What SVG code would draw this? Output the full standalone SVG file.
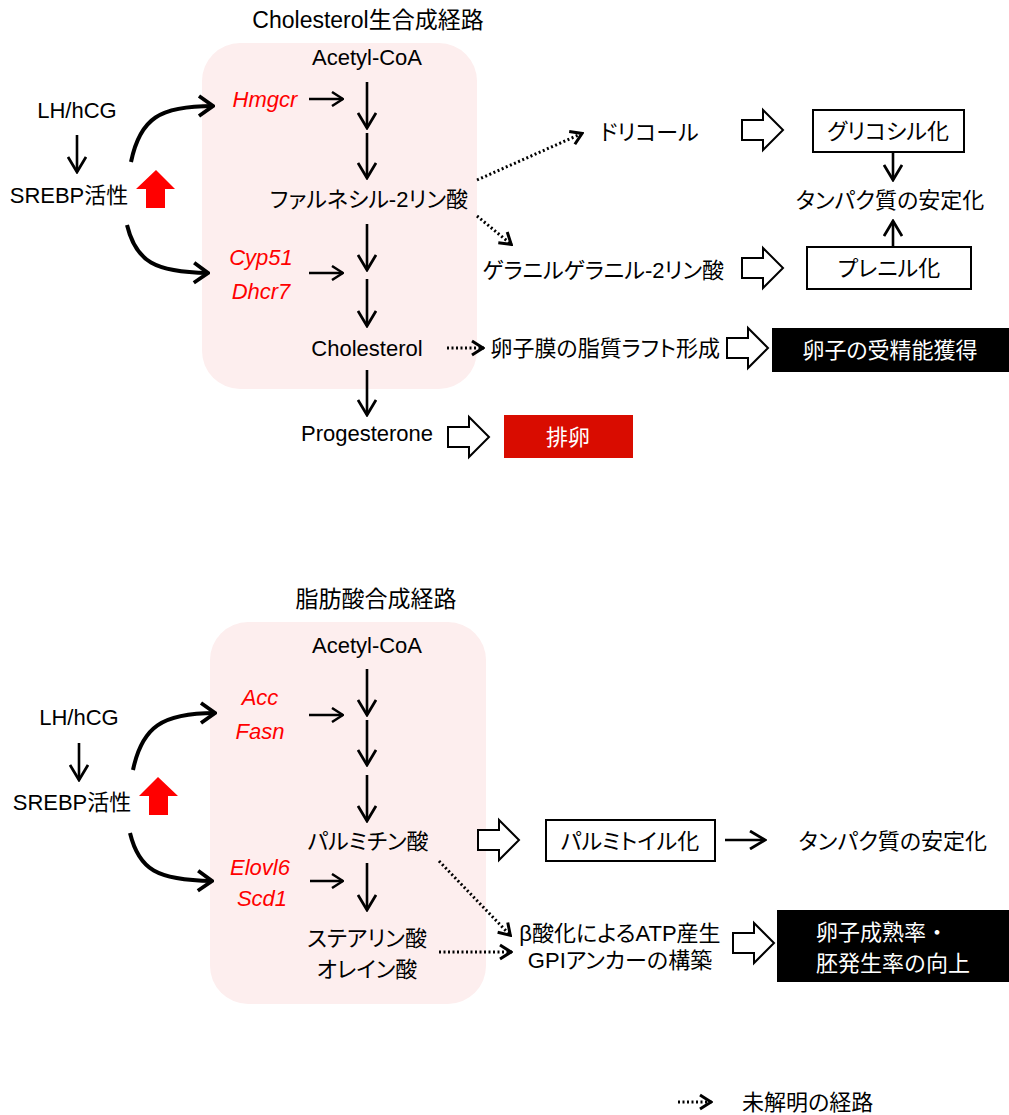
<svg xmlns="http://www.w3.org/2000/svg" width="1009" height="1115" viewBox="0 0 1009 1115">
<style>
text{font-family:"Liberation Sans","Noto Sans CJK JP",sans-serif;font-size:22px;fill:#000;font-feature-settings:"palt";}
.m{text-anchor:middle}
.e{text-anchor:end}
.np{font-feature-settings:normal}
.gene{fill:#ff0000;font-style:italic}
.title{font-size:23px}
.w{fill:#fff}
.ln{stroke:#000;stroke-width:2.6;fill:none;marker-end:url(#ah)}
.sm{stroke:#000;stroke-width:2.5;fill:none;marker-end:url(#ahs)}
.cv{stroke:#000;stroke-width:4;fill:none;marker-end:url(#ahc)}
.dt{stroke:#000;stroke-width:3;fill:none;stroke-dasharray:2 2.5;marker-end:url(#ahd)}
.pink{fill:#fdeeee}
.box{fill:#fff;stroke:#000;stroke-width:2}
.dark{fill:#000}
.up{fill:#ff0000}
</style>
<defs>
<marker id="ah" viewBox="0 0 18 20" refX="16" refY="10" markerWidth="18" markerHeight="20" markerUnits="userSpaceOnUse" orient="auto"><path d="M1,1 L16,10 L1,19" fill="none" stroke="#000" stroke-width="2.8"/></marker>
<marker id="ahs" viewBox="0 0 13 16" refX="12" refY="8" markerWidth="13" markerHeight="16" markerUnits="userSpaceOnUse" orient="auto"><path d="M1,1 L12,8 L1,15" fill="none" stroke="#000" stroke-width="2.5"/></marker>
<marker id="ahc" viewBox="0 0 18 24" refX="16" refY="12" markerWidth="18" markerHeight="24" markerUnits="userSpaceOnUse" orient="auto"><path d="M2,2 L16,12 L2,22" fill="none" stroke="#000" stroke-width="3.8"/></marker>
<marker id="ahd" viewBox="0 0 14 18" refX="13" refY="9" markerWidth="14" markerHeight="18" markerUnits="userSpaceOnUse" orient="auto"><path d="M1,2 L12,9 L1,16" fill="none" stroke="#000" stroke-width="3"/></marker>
<path id="ba" d="M0,-10 H21 V-20 L41,0 L21,20 V10 H0 Z" fill="#fff" stroke="#000" stroke-width="2"/>
</defs>

<!-- Top section -->
<g id="chol-pathway-box">
<rect class="pink" x="202" y="43" width="275" height="346" rx="38"/>
<text class="m title" x="368" y="28">Cholesterol生合成経路</text>
</g>
<g id="top-lh"><text class="m" x="77" y="118">LH/hCG</text></g>
<g id="top-srebp"><text class="m" x="69" y="203">SREBP活性</text></g>
<g id="top-up"><path class="up" d="M156,170 L175,189 L165,189 L165,208 L146,208 L146,189 L136,189 Z"/></g>
<g id="top-acetyl"><text class="m" x="367" y="65">Acetyl-CoA</text></g>
<g id="hmgcr"><text class="m gene" x="265" y="107">Hmgcr</text></g>
<g id="farnesyl"><text class="m" x="369" y="207">ファルネシル-2リン酸</text></g>
<g id="cyp51"><text class="m gene" x="261" y="265">Cyp51</text><text class="m gene" x="261" y="299">Dhcr7</text></g>
<g id="cholesterol"><text class="m" x="367" y="356">Cholesterol</text></g>
<g id="progesterone"><text class="m" x="367" y="441">Progesterone</text></g>
<g id="ovulation"><rect x="504" y="415" width="129" height="43" fill="#d90c00"/><text class="m w" x="568" y="445">排卵</text></g>
<g id="dolichol"><text x="600" y="140">ドリコール</text></g>
<g id="glyco"><rect class="box" x="813" y="110" width="151" height="42"/><text class="m" x="888" y="139">グリコシル化</text></g>
<g id="protein-stab-top"><text class="m" x="890" y="208">タンパク質の安定化</text></g>
<g id="ggpp"><text class="e" x="724" y="278">ゲラニルゲラニル-2リン酸</text></g>
<g id="prenyl"><rect class="box" x="807" y="247" width="164" height="42"/><text class="m" x="889" y="276">プレニル化</text></g>
<g id="raft"><text class="e" x="720" y="356">卵子膜の脂質ラフト形成</text></g>
<g id="fertility"><rect class="dark" x="772" y="328" width="237" height="44"/><text class="m w" x="890" y="358">卵子の受精能獲得</text></g>

<!-- Bottom section -->
<g id="fa-pathway-box">
<rect class="pink" x="210" y="622" width="276" height="382" rx="38"/>
<text class="m title" x="376" y="607">脂肪酸合成経路</text>
</g>
<g id="bot-lh"><text class="m" x="79" y="725">LH/hCG</text></g>
<g id="bot-srebp"><text class="m" x="72" y="810">SREBP活性</text></g>
<g id="bot-up"><path class="up" d="M158,777 L178,796 L168,796 L168,815 L149,815 L149,796 L139,796 Z"/></g>
<g id="bot-acetyl"><text class="m" x="367" y="653">Acetyl-CoA</text></g>
<g id="acc"><text class="m gene" x="260" y="705">Acc</text><text class="m gene" x="260" y="739">Fasn</text></g>
<g id="palmitic"><text class="m" x="368" y="849">パルミチン酸</text></g>
<g id="elovl6"><text class="m gene" x="260" y="875">Elovl6</text><text class="m gene" x="262" y="906">Scd1</text></g>
<g id="stearic"><text class="m" x="367" y="946">ステアリン酸</text><text class="m" x="367" y="977">オレイン酸</text></g>
<g id="palmitoyl"><rect class="box" x="546" y="820" width="169" height="41"/><text class="m" x="630" y="849">パルミトイル化</text></g>
<g id="protein-stab-bot"><text class="e" x="987" y="849">タンパク質の安定化</text></g>
<g id="beta-ox"><text class="m" x="620" y="941">β酸化によるATP産生</text><text class="m" x="620" y="968">GPIアンカーの構築</text></g>
<g id="maturation"><rect class="dark" x="777" y="910" width="232" height="72"/><text class="w np" x="816" y="940">卵子成熟率・</text><text class="w np" x="816" y="971">胚発生率の向上</text></g>

<g id="legend"><path class="dt" d="M678,1102 H712"/><text x="742" y="1110">未解明の経路</text></g>

<g id="connectors">
<!-- top -->
<path class="ln" d="M77,135 V172"/>
<path class="cv" d="M131,162 C140,118 160,106 213,106"/>
<path class="cv" d="M127,225 C136,262 155,272 208,273"/>
<path class="sm" d="M309,99 H343"/>
<path class="sm" d="M309,273 H343"/>
<path class="ln" d="M367,82 V128"/>
<path class="ln" d="M367,133 V178"/>
<path class="ln" d="M367,224 V270"/>
<path class="ln" d="M367,279 V326"/>
<path class="ln" d="M367,370 V415"/>
<path class="dt" d="M477,180 L583,133"/>
<path class="dt" d="M477,216 L512,245"/>
<path class="dt" d="M447,348 H484"/>
<path class="ln" d="M893,152 V180"/>
<path class="ln" d="M893,247 V221"/>
<use href="#ba" x="448" y="437"/>
<use href="#ba" x="742" y="130"/>
<use href="#ba" x="742" y="268"/>
<use href="#ba" x="727" y="348"/>
<!-- bottom -->
<path class="ln" d="M79,743 V780"/>
<path class="cv" d="M133,770 C142,727 162,713 215,713"/>
<path class="cv" d="M130,833 C139,870 157,880 212,881"/>
<path class="sm" d="M309,715 H343"/>
<path class="sm" d="M310,881 H343"/>
<path class="ln" d="M367,669 V715"/>
<path class="ln" d="M367,720 V765"/>
<path class="ln" d="M367,775 V821"/>
<path class="ln" d="M367,863 V910"/>
<path class="dt" d="M439,861 L511,936"/>
<path class="dt" d="M439,952 H512"/>
<path class="ln" d="M725,840 H765"/>
<use href="#ba" x="478" y="840"/>
<use href="#ba" x="733" y="943"/>
</g>
</svg>
